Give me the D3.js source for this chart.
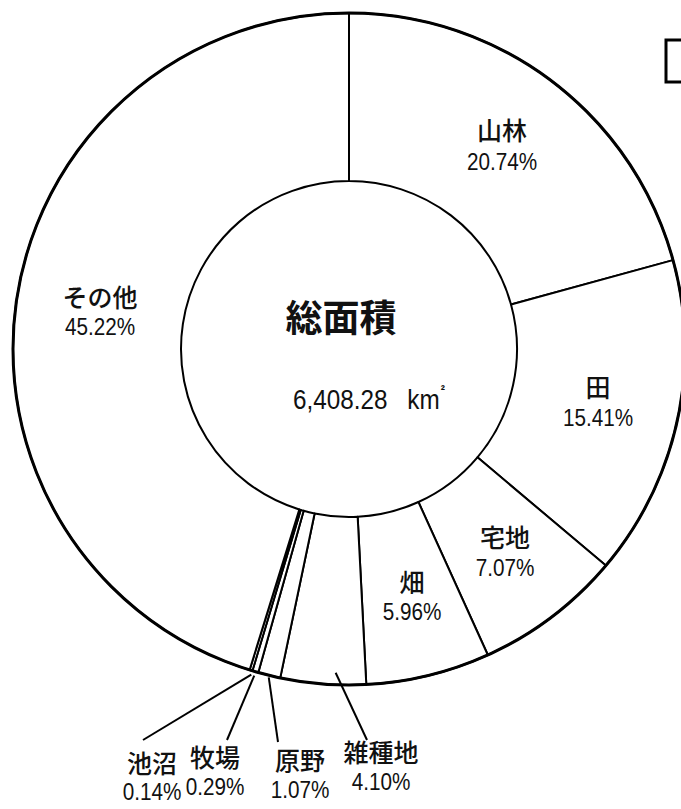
<!DOCTYPE html>
<html>
<head>
<meta charset="utf-8">
<script src="https://cdn.jsdelivr.net/npm/d3@7"></script>
<style>
  html, body { margin: 0; padding: 0; background: #fff; }
  svg { display: block; }
  text { font-family: "Liberation Sans", "Noto Sans CJK JP", sans-serif; fill: #111; }
</style>
</head>
<body>
<svg id="chart" width="681" height="809"></svg>
<script>
// ---- data (clockwise from 12 o'clock) ----
const categories = ["山林", "田", "宅地", "畑", "雑種地", "原野", "牧場", "池沼", "その他"];
const shares = [20.74, 15.41, 7.07, 5.96, 4.10, 1.07, 0.29, 0.14, 45.22];
const percentLabels = ["20.74%", "15.41%", "7.07%", "5.96%", "4.10%", "1.07%", "0.29%", "0.14%", "45.22%"];
const centerTitle = "総面積";
const totalArea = "6,408.28";
const totalUnit = "km";

// ---- layout ----
const W = 681, H = 809;
const cx = 349, cy = 349, rOuter = 336, rInner = 168;

// label anchor positions (name baseline / percent baseline)
const labelLayout = {
  "山林":   { x: 502, yName: 140, yPct: 170 },
  "田":     { x: 598, yName: 397, yPct: 426 },
  "宅地":   { x: 505, yName: 547, yPct: 576 },
  "畑":     { x: 412, yName: 592, yPct: 620 },
  "雑種地": { x: 381, yName: 762, yPct: 790 },
  "原野":   { x: 300, yName: 770, yPct: 798 },
  "牧場":   { x: 215, yName: 767, yPct: 795 },
  "池沼":   { x: 152, yName: 773, yPct: 800 },
  "その他": { x: 100, yName: 307, yPct: 335 }
};
// leader lines: start inside slice (fraction t of slice angle, radius r), end near label
const leaderLayout = {
  "雑種地": { t: 0.36, r: 324, ex: 367, ey: 740 },
  "原野":   { t: 0.50, r: 338, ex: 278, ey: 742 },
  "牧場":   { t: 0.50, r: 340, ex: 227, ey: 740 },
  "池沼":   { t: 0.00, r: 340, ex: 143, ey: 740 }
};

const svg = d3.select("#chart");
svg.append("rect").attr("width", W).attr("height", H).attr("fill", "#fff");

const data = categories.map((c, i) => ({ name: c, value: shares[i], pct: percentLabels[i] }));
const pie = d3.pie().value(d => d.value).sort(null).startAngle(0).endAngle(2 * Math.PI);
const arcs = pie(data);
const arc = d3.arc().innerRadius(rInner).outerRadius(rOuter);

const g = svg.append("g").attr("transform", `translate(${cx},${cy})`);

g.selectAll("path.slice")
  .data(arcs)
  .join("path")
  .attr("class", "slice")
  .attr("d", arc)
  .attr("fill", "#fff")
  .attr("stroke", "#000")
  .attr("stroke-width", 2)
  .attr("stroke-linejoin", "round");

// thicker outer rim
g.append("circle").attr("r", rOuter).attr("fill", "none").attr("stroke", "#000").attr("stroke-width", 3);

// leader lines
const polar = (a, r) => [r * Math.sin(a), -r * Math.cos(a)];
arcs.forEach(a => {
  const L = leaderLayout[a.data.name];
  if (!L) return;
  const ang = a.startAngle + L.t * (a.endAngle - a.startAngle);
  const [sx, sy] = polar(ang, L.r);
  svg.append("line")
    .attr("x1", cx + sx).attr("y1", cy + sy)
    .attr("x2", L.ex).attr("y2", L.ey)
    .attr("stroke", "#000").attr("stroke-width", 2);
});

// labels
arcs.forEach(a => {
  const p = labelLayout[a.data.name];
  svg.append("text")
    .attr("x", p.x).attr("y", p.yName)
    .attr("text-anchor", "middle")
    .attr("font-size", 25)
    .attr("font-family", "'Noto Sans CJK JP', sans-serif")
    .attr("font-weight", 500)
    .text(a.data.name);
  svg.append("text")
    .attr("transform", `translate(${p.x},${p.yPct}) scale(0.9,1)`)
    .attr("text-anchor", "middle")
    .attr("font-size", 23)
    .text(a.data.pct);
});

// center
svg.append("text")
  .attr("x", 341).attr("y", 332)
  .attr("text-anchor", "middle")
  .attr("font-size", 37)
  .attr("font-family", "'Noto Sans CJK JP', sans-serif")
  .attr("font-weight", "bold")
  .text(centerTitle);

const tot = svg.append("text")
  .attr("transform", "translate(293,409) scale(0.9,1)")
  .attr("font-size", 27);
tot.append("tspan").text(totalArea);
tot.append("tspan").attr("dx", 22).text(totalUnit);
tot.append("tspan").attr("font-size", 14).attr("dy", -14).attr("dx", 1).attr("font-weight", "bold").text("²");

// partial box at top right
svg.append("rect")
  .attr("x", 666).attr("y", 40).attr("width", 40).attr("height", 42)
  .attr("fill", "none").attr("stroke", "#000").attr("stroke-width", 3);
</script>
</body>
</html>
